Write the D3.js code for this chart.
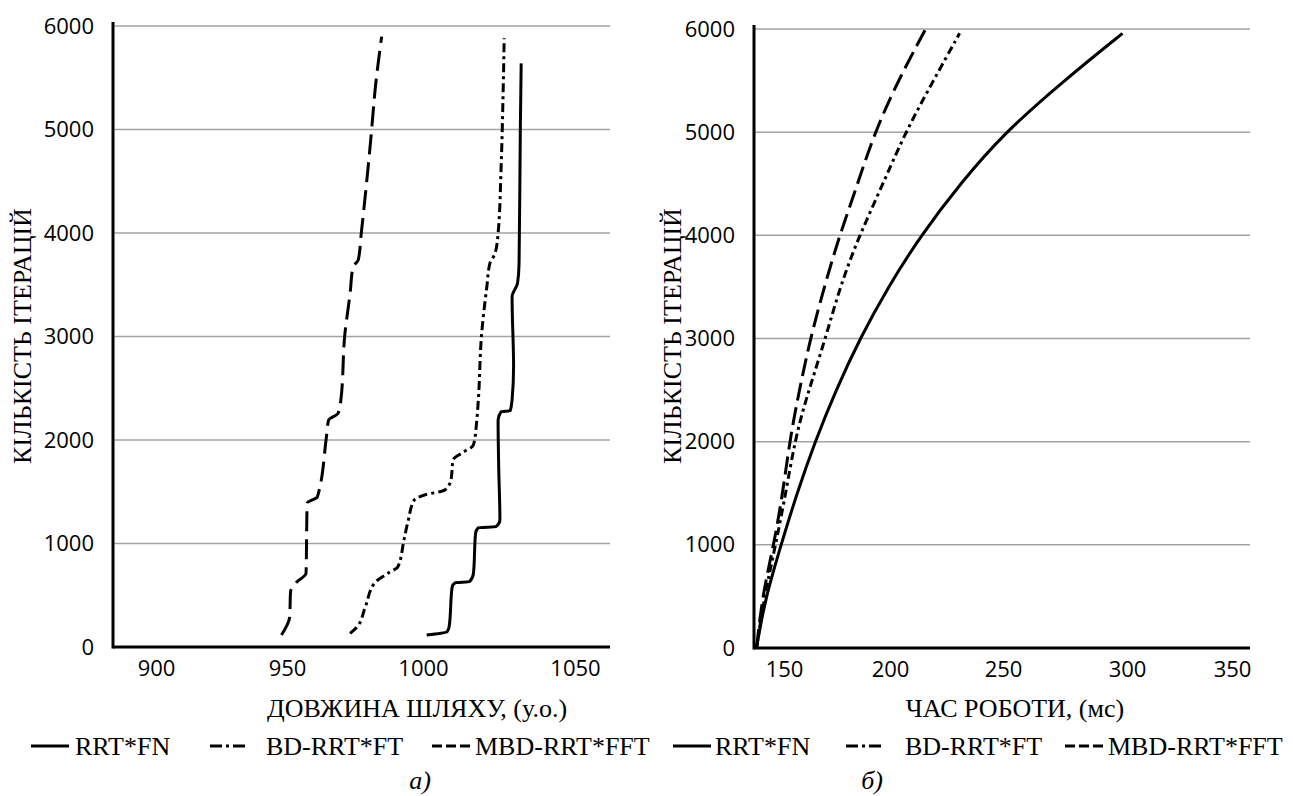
<!DOCTYPE html>
<html>
<head>
<meta charset="utf-8">
<script src="https://cdn.jsdelivr.net/npm/d3@7/dist/d3.min.js"></script>
<style>
  body { margin: 0; background: #fff; }
</style>
</head>
<body>
<svg id="chart" width="1293" height="796"></svg>
<script>
"use strict";

// ---- data ----
var seriesNames = ["RRT*FN", "BD-RRT*FT", "MBD-RRT*FFT"];
var iterTicks = [0, 1000, 2000, 3000, 4000, 5000, 6000];
var lengthTicks = [900, 950, 1000, 1050];
var timeTicks = [150, 200, 250, 300, 350];

// а) path length (у.о.) vs iterations
var lenRrtFn = [
  [1001.2, 116], [1007.9, 148], [1008.6, 196], [1009.6, 583], [1010.6, 621],
  [1015.3, 631], [1016.6, 712], [1017.3, 1099], [1018.2, 1153], [1024.0, 1163],
  [1025.3, 1227], [1024.9, 1742], [1024.7, 2193], [1025.7, 2273], [1028.7, 2283],
  [1029.3, 2386], [1029.8, 2708], [1029.3, 3385], [1031.1, 3514], [1031.6, 3706],
  [1032.0, 4963], [1032.3, 5639]
];
var lenBdRrt = [
  [973.2, 132], [975.8, 196], [978.8, 389], [982.3, 621], [987.1, 712],
  [990.8, 776], [993.0, 1034], [994.6, 1227], [996.8, 1420], [1000.5, 1469],
  [1007.2, 1517], [1009.2, 1614], [1009.9, 1807], [1012.6, 1871], [1016.6, 1952],
  [1017.7, 2193], [1018.2, 2386], [1019.3, 3031], [1021.0, 3481], [1022.0, 3706],
  [1023.7, 3803], [1024.7, 3996], [1025.7, 4640], [1026.3, 5285], [1026.7, 5881]
];
var lenMbdRrt = [
  [947.9, 116], [951.0, 293], [951.3, 534], [953.3, 621], [957.0, 712],
  [957.4, 1388], [961.2, 1452], [964.5, 2032], [965.3, 2193], [968.8, 2258],
  [969.8, 2386], [971.3, 3031], [973.2, 3417], [974.3, 3674], [976.2, 3739],
  [977.3, 3996], [981.0, 4963], [982.5, 5413], [984.8, 5897]
];

// б) run time (мс) vs iterations
var timeRrtFn = [
  [137.1, 10], [141.0, 465], [148.6, 1000], [156.1, 1500], [164.6, 2000],
  [174.5, 2500], [185.8, 3000], [199.1, 3500], [213.7, 4000], [231.0, 4500],
  [250.8, 5000], [274.6, 5500], [298.2, 5958]
];
var timeBdRrt = [
  [137.1, 10], [141.0, 530], [145.9, 982], [150.8, 1499], [155.2, 2016],
  [160.2, 2404], [169.5, 2995], [176.4, 3502], [185.3, 3987], [196.1, 4471],
  [206.5, 4985], [218.5, 5473], [230.8, 5958]
];
var timeMbdRrt = [
  [137.1, 10], [140.0, 530], [145.0, 982], [148.9, 1435], [152.8, 2016],
  [156.3, 2404], [162.3, 2995], [169.5, 3535], [176.0, 3987], [184.3, 4471],
  [192.5, 4985], [203.7, 5506], [215.7, 5997]
];

// ---- drawing ----
var svg = d3.select("#chart");
var tickFont = "'Open Sans', sans-serif";
var serifFont = "'Liberation Serif', 'Times New Roman', serif";

var panels = [
  {
    left: 113, right: 610,
    x: d3.scaleLinear().domain(lengthTicks).range([156, 287, 423, 575]),
    y: d3.scaleLinear().domain([0, 6000]).range([647, 26]),
    xTicks: lengthTicks,
    curve: d3.curveMonotoneY,
    series: [lenRrtFn, lenBdRrt, lenMbdRrt],
    dashes: [null, "9,4,3,4", "20,8"],
    xTitle: "ДОВЖИНА ШЛЯХУ, (у.о.)", xTitleX: 417,
    yTitleX: 22,
    legendX: [31, 210, 432], legendTextX: [75, 266, 475],
    caption: "а)", captionX: 420
  },
  {
    left: 754, right: 1250,
    x: d3.scaleLinear().domain(timeTicks).range([784, 890, 1003, 1127, 1232]),
    y: d3.scaleLinear().domain([0, 6000]).range([648, 29]),
    xTicks: timeTicks,
    curve: d3.curveBasis,
    series: [timeRrtFn, timeBdRrt, timeMbdRrt],
    dashes: [null, "8,4,3,4", "18,7"],
    xTitle: "ЧАС РОБОТИ, (мс)", xTitleX: 1015,
    yTitleX: 672,
    legendX: [673, 846, 1065], legendTextX: [715, 905, 1108],
    caption: "б)", captionX: 872
  }
];

var legendDashes = [null, "12,4,3,4", "10,4"];

function serifText(sel, size) {
  return sel
    .style("font-family", serifFont)
    .style("font-size", size + "px")
    .attr("fill", "#000");
}

panels.forEach(function(p) {
  var g = svg.append("g");
  var y0 = p.y(0);

  // horizontal grid
  g.append("g")
    .selectAll("line")
    .data(iterTicks.filter(function(t) { return t > 0; }))
    .enter()
    .append("line")
    .attr("x1", p.left)
    .attr("x2", p.right)
    .attr("y1", function(t) { return p.y(t); })
    .attr("y2", function(t) { return p.y(t); })
    .attr("stroke", "#a3a3a3")
    .attr("stroke-width", 1.5);

  // tick labels
  var yAxis = g.append("g")
    .attr("transform", "translate(" + p.left + ",0)")
    .call(d3.axisLeft(p.y).tickValues(iterTicks).tickFormat(d3.format("d"))
      .tickSize(0).tickPadding(19));
  var xAxis = g.append("g")
    .attr("transform", "translate(0," + y0 + ")")
    .call(d3.axisBottom(p.x).tickValues(p.xTicks).tickFormat(d3.format("d"))
      .tickSize(0).tickPadding(13));
  [yAxis, xAxis].forEach(function(a) {
    a.select(".domain").remove();
    a.selectAll("text")
      .attr("fill", "#000")
      .style("font-family", tickFont)
      .style("font-size", "22px");
  });

  // series
  var line = d3.line()
    .x(function(d) { return p.x(d[0]); })
    .y(function(d) { return p.y(d[1]); })
    .curve(p.curve);

  p.series.forEach(function(s, i) {
    g.append("path")
      .datum(s)
      .attr("fill", "none")
      .attr("stroke", "#000")
      .attr("stroke-width", 3)
      .attr("stroke-dasharray", p.dashes[i])
      .attr("d", line);
  });

  // axis lines
  g.append("line")
    .attr("x1", p.left).attr("x2", p.left)
    .attr("y1", p.y(6000) - 4).attr("y2", y0 + 1.5)
    .attr("stroke", "#000").attr("stroke-width", 3);
  g.append("line")
    .attr("x1", p.left).attr("x2", p.right)
    .attr("y1", y0).attr("y2", y0)
    .attr("stroke", "#000").attr("stroke-width", 3);

  // titles
  serifText(g.append("text"), 26)
    .attr("x", p.xTitleX).attr("y", 717)
    .attr("text-anchor", "middle")
    .text(p.xTitle);
  serifText(g.append("text"), 26)
    .attr("transform", "translate(" + p.yTitleX + "," + 336 + ") rotate(-90)")
    .attr("text-anchor", "middle")
    .attr("dominant-baseline", "central")
    .text("КІЛЬКІСТЬ ІТЕРАЦІЙ");

  // legend
  seriesNames.forEach(function(name, i) {
    g.append("line")
      .attr("x1", p.legendX[i]).attr("x2", p.legendX[i] + 38)
      .attr("y1", 746).attr("y2", 746)
      .attr("stroke", "#000").attr("stroke-width", 3)
      .attr("stroke-dasharray", legendDashes[i]);
    serifText(g.append("text"), 26)
      .attr("x", p.legendTextX[i]).attr("y", 755)
      .text(name);
  });

  serifText(g.append("text"), 26)
    .attr("x", p.captionX).attr("y", 789)
    .attr("text-anchor", "middle")
    .style("font-style", "italic")
    .text(p.caption);
});
</script>
</body>
</html>
